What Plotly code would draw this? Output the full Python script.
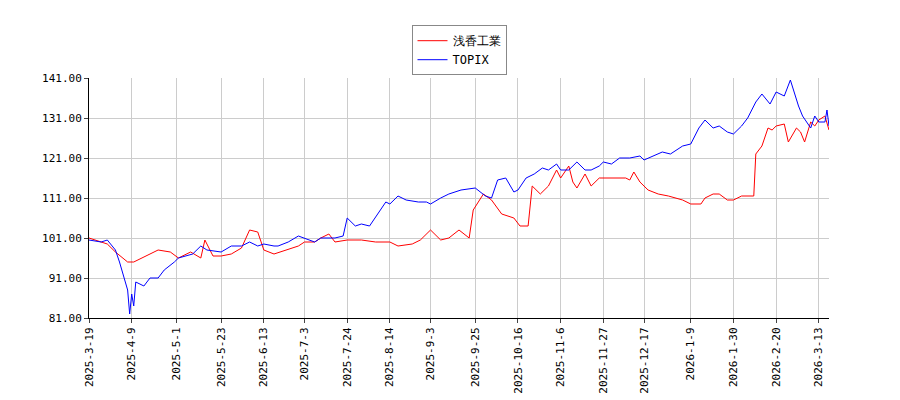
import plotly.graph_objects as go
import pandas as pd

topix_dates = ["2025-03-19","2025-03-25","2025-03-28","2025-04-01","2025-04-03","2025-04-07","2025-04-08","2025-04-09","2025-04-10","2025-04-11","2025-04-15","2025-04-18","2025-04-22","2025-04-25","2025-04-30","2025-05-02","2025-05-09","2025-05-13","2025-05-16","2025-05-23","2025-05-28","2025-06-02","2025-06-06","2025-06-10","2025-06-13","2025-06-18","2025-06-20","2025-06-25","2025-06-30","2025-07-03","2025-07-08","2025-07-11","2025-07-15","2025-07-18","2025-07-22","2025-07-24","2025-07-28","2025-07-31","2025-08-04","2025-08-08","2025-08-12","2025-08-14","2025-08-18","2025-08-22","2025-08-28","2025-09-01","2025-09-03","2025-09-08","2025-09-12","2025-09-18","2025-09-25","2025-09-30","2025-10-03","2025-10-06","2025-10-10","2025-10-14","2025-10-16","2025-10-20","2025-10-24","2025-10-28","2025-10-31","2025-11-04","2025-11-06","2025-11-10","2025-11-14","2025-11-18","2025-11-21","2025-11-25","2025-11-27","2025-12-01","2025-12-05","2025-12-10","2025-12-15","2025-12-17","2025-12-22","2025-12-26","2025-12-30","2026-01-05","2026-01-09","2026-01-13","2026-01-16","2026-01-20","2026-01-23","2026-01-27","2026-01-30","2026-02-03","2026-02-06","2026-02-10","2026-02-13","2026-02-17","2026-02-20","2026-02-24","2026-02-27","2026-03-03","2026-03-05","2026-03-09","2026-03-11","2026-03-13","2026-03-16","2026-03-17","2026-03-18"]
topix_values = [100.5,100,100.5,98,95,88,82,87,84,90,89,91,91,93,95,96,97,99,98,97.5,99,99,100,99,99.5,99,99,100,101.5,101,100,101,101,101,101.5,106,104,104.5,104,107,110,109.5,111.5,110.5,110,110,109.5,111,112,113,113.5,111.5,111,115.5,116,112.5,113,116,117,118.5,118,119.5,118,118,120,118,118,119,120,119.5,121,121,121.5,120.5,121.5,122.5,122,124,124.5,128.5,130.5,128.5,129,127.5,127,129,131,135,137,134.5,137.5,136.5,140.5,134,131.5,128.5,131.5,130,130,133,129]

asaka_dates = ["2025-03-19","2025-03-25","2025-03-28","2025-04-01","2025-04-07","2025-04-10","2025-04-14","2025-04-18","2025-04-22","2025-04-28","2025-05-02","2025-05-08","2025-05-13","2025-05-15","2025-05-19","2025-05-23","2025-05-28","2025-06-02","2025-06-06","2025-06-10","2025-06-13","2025-06-18","2025-06-24","2025-06-30","2025-07-03","2025-07-08","2025-07-11","2025-07-15","2025-07-18","2025-07-24","2025-07-31","2025-08-07","2025-08-14","2025-08-18","2025-08-25","2025-08-29","2025-09-03","2025-09-08","2025-09-12","2025-09-17","2025-09-22","2025-09-24","2025-09-29","2025-10-03","2025-10-08","2025-10-14","2025-10-17","2025-10-21","2025-10-23","2025-10-27","2025-10-31","2025-11-04","2025-11-06","2025-11-10","2025-11-12","2025-11-14","2025-11-18","2025-11-21","2025-11-25","2025-11-28","2025-12-03","2025-12-08","2025-12-10","2025-12-12","2025-12-15","2025-12-19","2025-12-24","2025-12-29","2026-01-05","2026-01-09","2026-01-14","2026-01-16","2026-01-20","2026-01-23","2026-01-27","2026-01-30","2026-02-03","2026-02-06","2026-02-09","2026-02-10","2026-02-13","2026-02-16","2026-02-18","2026-02-20","2026-02-24","2026-02-26","2026-03-02","2026-03-04","2026-03-06","2026-03-09","2026-03-11","2026-03-13","2026-03-16","2026-03-18"]
asaka_values = [101,100,99.5,97.5,95,95,96,97,98,97.5,96,97.5,96,100.5,96.5,96.5,97,98.5,103,102.5,98,97,98,99,100,100,101,102,100,100.5,100.5,100,100,99,99.5,100.5,103,100.5,101,103,101,108,112,110.5,107,106,104,104,114,112,114,118,116,119,115,113.5,117,114,116,116,116,116,115.5,117.5,115,113,112,111.5,110.5,109.5,109.5,111,112,112,110.5,110.5,111.5,111.5,111.5,122,124,128.5,128,129,129.5,125,128.5,127.5,125,130,129,130.5,131.5,128]

tick_labels = ["2025-3-19","2025-4-9","2025-5-1","2025-5-23","2025-6-13","2025-7-3","2025-7-24","2025-8-14","2025-9-3","2025-9-25","2025-10-16","2025-11-6","2025-11-27","2025-12-17","2026-1-9","2026-1-30","2026-2-20","2026-3-13"]
tick_vals = [pd.Timestamp(t) for t in tick_labels]

fig = go.Figure()
fig.add_trace(go.Scatter(x=asaka_dates, y=asaka_values, mode="lines", name="浅香工業", line=dict(color="red", width=1)))
fig.add_trace(go.Scatter(x=topix_dates, y=topix_values, mode="lines", name="TOPIX", line=dict(color="blue", width=1)))
fig.update_layout(
    width=900, height=400, margin=dict(l=81, r=79, t=70, b=90, autoexpand=False),
    plot_bgcolor="white", paper_bgcolor="white",
    font=dict(family="DejaVu Sans Mono", size=11, color="black"),
    legend=dict(x=0.5, xanchor="center", y=1.22, yanchor="top", bordercolor="#888", borderwidth=1, font=dict(size=12)),
    showlegend=True,
)
fig.update_xaxes(range=["2025-03-19", "2026-03-18"], tickvals=tick_vals, ticktext=tick_labels,
                 tickangle=-90, showgrid=True, gridcolor="#ccc", showline=True, linecolor="black",
                 ticks="outside", ticklen=4, automargin=False)
fig.update_yaxes(range=[81, 141], tickvals=[81,91,101,111,121,131,141],
                 ticktext=["81.00","91.00","101.00","111.00","121.00","131.00","141.00"],
                 showgrid=True, gridcolor="#ccc", showline=True, linecolor="black", ticks="outside", ticklen=4,
                 automargin=False)
fig.write_html("out.html")
